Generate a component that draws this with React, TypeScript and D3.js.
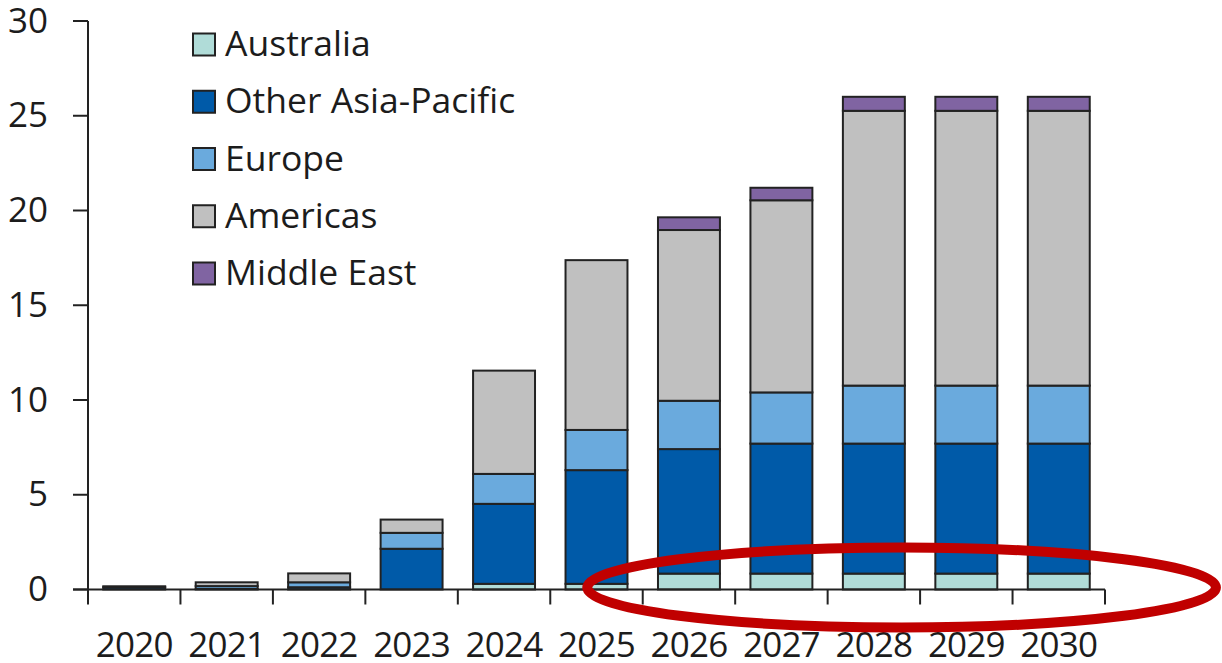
import React from 'react';
import * as d3 from 'd3';

const years = ['2020','2021','2022','2023','2024','2025','2026','2027','2028','2029','2030'];
const seriesNames = ['Australia','Other Asia-Pacific','Europe','Americas','Middle East'];
const australia = [0, 0, 0, 0, 0.3, 0.3, 0.84, 0.84, 0.84, 0.84, 0.84];
const otherAsiaPacific = [0.12, 0.03, 0.12, 2.15, 4.22, 6.0, 6.57, 6.86, 6.86, 6.86, 6.86];
const europe = [0.05, 0.15, 0.26, 0.84, 1.58, 2.12, 2.55, 2.7, 3.06, 3.06, 3.06];
const americas = [0, 0.2, 0.47, 0.7, 5.45, 8.96, 9.01, 10.14, 14.5, 14.5, 14.5];
const middleEast = [0, 0, 0, 0, 0, 0, 0.67, 0.66, 0.74, 0.74, 0.74];
const yTicks = [0, 5, 10, 15, 20, 25, 30];
const colors = ['#b0dcd8', '#005aa8', '#6aaadd', '#c0c0c0', '#8064a2'];

const W = 1222, H = 663;
const FONT = '"Open Sans", "Noto Sans", sans-serif';

export default function App() {
  const left = 88, right = 1105, top = 21, bottom = 589.5;
  const x = d3.scaleBand<string>().domain(years).range([left, right]).paddingInner(0.33).paddingOuter(0.165);
  const band = d3.scaleBand<string>().domain(years).range([left, right]);
  const y = d3.scaleLinear().domain([0, 30]).range([bottom, top]);
  const rows = years.map((yr, i) => ({
    year: yr,
    'Australia': australia[i],
    'Other Asia-Pacific': otherAsiaPacific[i],
    'Europe': europe[i],
    'Americas': americas[i],
    'Middle East': middleEast[i],
  }));
  const stacked = d3.stack<any>().keys(seriesNames)(rows);
  const bw = band.bandwidth();
  const axisColor = '#222';
  const textColor = '#1c1c1c';

  return (
    <div style={{ position: 'absolute', left: 0, top: 0 }}>
      <svg width={W} height={H} style={{ display: 'block', background: '#fff' }}>
        {/* bars */}
        {stacked.map((s, si) => (
          <g key={seriesNames[si]}>
            {s.map((d, i) => {
              const h = y(d[0]) - y(d[1]);
              if (h <= 0) return null;
              return (
                <rect key={i} x={x(years[i])} y={y(d[1])} width={x.bandwidth()} height={h}
                  fill={colors[si]} stroke={axisColor} strokeWidth={2} />
              );
            })}
          </g>
        ))}
        {/* y axis */}
        <line x1={left} x2={left} y1={y(30)} y2={y(0) + 15} stroke={axisColor} strokeWidth={2} />
        {yTicks.map(t => (
          <g key={t}>
            <line x1={left - 15} x2={left} y1={y(t)} y2={y(t)} stroke={axisColor} strokeWidth={2} />
            <text x={48} y={y(t) + 11.5} textAnchor="end" fontFamily={FONT} fontSize={35} fill={textColor}>{t}</text>
          </g>
        ))}
        {/* x axis */}
        <line x1={left - 15} x2={right} y1={y(0)} y2={y(0)} stroke={axisColor} strokeWidth={2} />
        {years.map((yr) => (
          <line key={'t' + yr} x1={band(yr)! + bw} x2={band(yr)! + bw} y1={y(0)} y2={y(0) + 15} stroke={axisColor} strokeWidth={2} />
        ))}
        {years.map(yr => (
          <text key={'l' + yr} x={band(yr)! + bw / 2} y={657} textAnchor="middle" fontFamily={FONT} fontSize={35} letterSpacing={-0.8} fill={textColor}>{yr}</text>
        ))}
        {/* legend */}
        {seriesNames.map((n, i) => (
          <g key={n} transform={`translate(193, ${44.5 + i * 57.25})`}>
            <rect x={0} y={-11} width={22} height={22} fill={colors[i]} stroke={axisColor} strokeWidth={2} />
            <text x={32} y={11.5} fontFamily={FONT} fontSize={35.5} fill={textColor}>{n}</text>
          </g>
        ))}
        {/* annotation ellipse */}
        <ellipse cx={band('2028')! + bw * 0.8} cy={y(0) - 2} rx={bw * 3.4} ry={40}
          fill="none" stroke="#c00000" strokeWidth={10} />
      </svg>
    </div>
  );
}
